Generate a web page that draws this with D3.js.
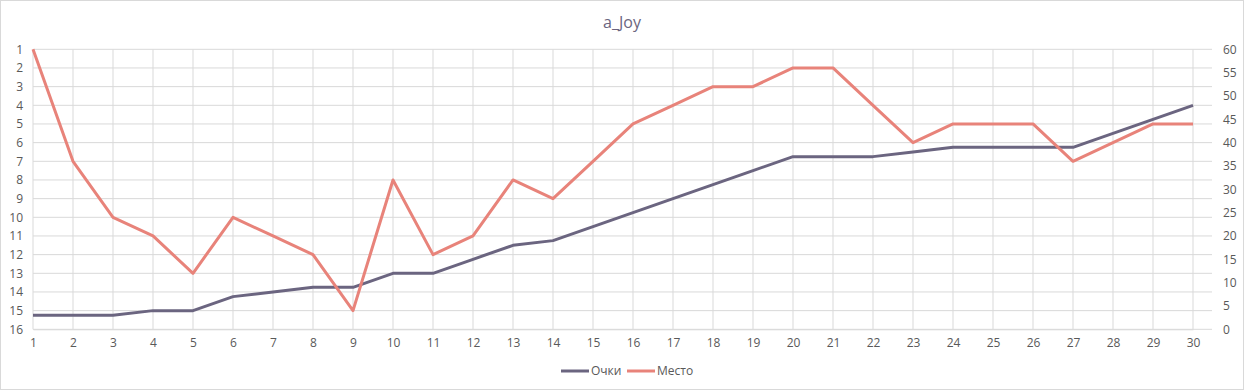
<!DOCTYPE html>
<html><head><meta charset="utf-8">
<script src="https://cdn.jsdelivr.net/npm/d3@7"></script>
<style>body{margin:0;background:#fff;font-family:"Open Sans","Noto Sans",sans-serif;}</style>
</head><body>
<svg id="c" width="1245" height="391"></svg>
<script>
const rounds = d3.range(1, 31);
const points = [3,3,3,4,4,7,8,9,9,12,12,15,18,19,22,25,28,31,34,37,37,37,38,39,39,39,39,42,45,48];
const places = [1,7,10,11,13,10,11,12,15,8,12,11,8,9,7,5,4,3,3,2,2,4,6,5,5,5,7,6,5,5];
const placeTicks = d3.range(1, 17);
const pointTicks = d3.range(0, 61, 5);
const title = "a_Joy";
const seriesNames = ["Очки", "Место"];
const colors = ["#6b6580", "#e8837a"];

const svg = d3.select("#c");
svg.append("rect").attr("x",0.5).attr("y",0.5).attr("width",1243).attr("height",389)
  .attr("fill","#fff").attr("stroke","#d9d9d9");

const L = 33, R = 1212, T = 49.3, B = 329.3;
const x = d3.scalePoint().domain(rounds).range([L, L + 40*29]);
const yL = d3.scaleLinear().domain([1, 16]).range([T, B]);
const yR = d3.scaleLinear().domain([0, 60]).range([B, T]);

const g = svg.append("g");
// horizontal gridlines
g.selectAll(".hg").data(placeTicks).join("line")
  .attr("x1", L).attr("x2", R).attr("y1", d=>yL(d)).attr("y2", d=>yL(d))
  .attr("stroke","#d9d9d9").attr("stroke-width",1);
// vertical gridlines
g.selectAll(".vg").data(rounds).join("line")
  .attr("x1", d=>x(d)).attr("x2", d=>x(d)).attr("y1", T).attr("y2", B)
  .attr("stroke","#d9d9d9").attr("stroke-width",1);

const txt = {fill:"#595959","font-size":"12px"};
// left axis
const la = svg.append("g").attr("transform",`translate(${L},0)`)
  .call(d3.axisLeft(yL).tickValues(placeTicks).tickSize(0).tickPadding(10));
la.select(".domain").remove();
la.selectAll("text").attr("fill","#595959").style("font-size","12px").style("font-family","Open Sans");
// right axis
const ra = svg.append("g").attr("transform",`translate(${R},0)`)
  .call(d3.axisRight(yR).tickValues(pointTicks).tickSize(0).tickPadding(11));
ra.select(".domain").remove();
ra.selectAll("text").attr("fill","#595959").style("font-size","12px").style("font-family","Open Sans");
// bottom axis
const ba = svg.append("g").attr("transform",`translate(0,${B})`)
  .call(d3.axisBottom(x).tickSize(0).tickPadding(9));
ba.select(".domain").attr("stroke","#d9d9d9");
ba.selectAll("text").attr("fill","#595959").style("font-size","12px").style("font-family","Open Sans");

// lines
const linePts = d3.line().x((d,i)=>x(rounds[i])).y(d=>yR(d));
const linePl = d3.line().x((d,i)=>x(rounds[i])).y(d=>yL(d));
svg.append("path").datum(points).attr("d",linePts).attr("fill","none")
  .attr("stroke",colors[0]).attr("stroke-width",3).attr("stroke-linejoin","round");
svg.append("path").datum(places).attr("d",linePl).attr("fill","none")
  .attr("stroke",colors[1]).attr("stroke-width",3).attr("stroke-linejoin","round");

// title
svg.append("text").attr("x",622).attr("y",28).attr("text-anchor","middle")
  .attr("fill","#6b6580").style("font-size","16px").text(title);

// legend
const leg = svg.append("g").attr("transform","translate(561,371)");
const lx = [0, 66];
seriesNames.forEach((n,i)=>{
  leg.append("line").attr("x1",lx[i]).attr("x2",lx[i]+28).attr("y1",0).attr("y2",0)
    .attr("stroke",colors[i]).attr("stroke-width",3);
  leg.append("text").attr("x",lx[i]+30).attr("y",4).attr("fill","#595959")
    .style("font-size","12px").text(n);
});
</script>
</body></html>
